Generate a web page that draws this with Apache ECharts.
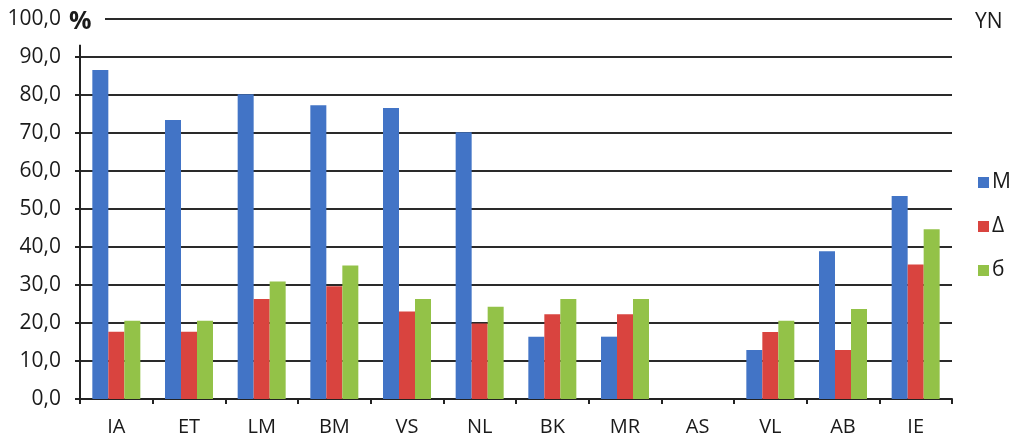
<!DOCTYPE html>
<html>
<head>
<meta charset="utf-8">
<script src="https://cdn.jsdelivr.net/npm/echarts@6/dist/echarts.min.js"></script>
<style>
html,body{margin:0;padding:0;background:#fff;}
#main{width:1023px;height:440px;}
</style>
</head>
<body>
<div id="main"></div>
<script>
// 类别与数值
var categories = ['IA','ET','LM','BM','VS','NL','BK','MR','AS','VL','AB','IE'];
var seriesNames = ['M','Δ','б'];
var valM     = [86.6, 73.4, 80.2, 77.3, 76.6, 70.2, 16.4, 16.4, 0, 12.9, 38.9, 53.4];
var valDelta = [17.7, 17.7, 26.3, 29.7, 23.0, 19.9, 22.3, 22.3, 0, 17.6, 12.9, 35.4];
var valB     = [20.6, 20.6, 30.9, 35.1, 26.3, 24.3, 26.3, 26.3, 0, 20.6, 23.7, 44.7];
var yTicks = {min: 0, max: 100, interval: 10};

var font = '"Open Sans", "Noto Sans", sans-serif';

function drawChart(){
	var myChart = echarts.init(document.getElementById('main'));
	var option = {
		animation: false,
		title: [
			{text: '%', left: 64, top: 4, textStyle: {fontFamily: font, fontSize: 25, fontWeight: 'bold', color: '#1a1a1a'}},
			{text: 'YN', left: 970, top: 7, textStyle: {fontFamily: font, fontSize: 21, fontWeight: 'normal', color: '#1a1a1a'}}
		],
		legend: {
			orient: 'vertical',
			left: 973,
			top: 167,
			itemWidth: 11,
			itemHeight: 11,
			itemGap: 23,
			icon: 'rect',
			data: seriesNames,
			textStyle: {fontFamily: font, fontSize: 21, color: '#1a1a1a', padding: [0, 0, 0, -2]}
		},
		grid: {left: 80, right: 71, top: 19, bottom: 41},
		xAxis: {
			type: 'category',
			data: categories,
			axisLine: {show: true, lineStyle: {color: '#222', width: 2}},
			axisTick: {show: true, length: 5, lineStyle: {color: '#222', width: 2}},
			axisLabel: {fontFamily: font, fontSize: 20, color: '#1a1a1a', margin: 18}
		},
		yAxis: {
			type: 'value',
			min: yTicks.min,
			max: yTicks.max,
			interval: yTicks.interval,
			axisLine: {show: false},
			axisTick: {show: false},
			axisLabel: {
				fontFamily: font, fontSize: 21, color: '#1a1a1a', margin: 19,
				formatter: function(v){ return v.toFixed(1).replace('.', ','); }
			},
			splitLine: {show: true, showMaxLine: false, lineStyle: {color: '#2a2a2a', width: 2}}
		},
		series: [
			{name: seriesNames[0], type: 'bar', data: valM, barWidth: 16, barGap: '0%',
				itemStyle: {color: '#4274C6'}},
			{name: seriesNames[1], type: 'bar', data: valDelta, barWidth: 16,
				itemStyle: {color: '#D9443F'}},
			{name: seriesNames[2], type: 'bar', data: valB, barWidth: 16,
				itemStyle: {color: '#93C248'}}
		]
	};
	myChart.setOption(option);

	// 纵轴线只画到 ~93，100 那条线从 % 号右边开始
	var rect = myChart.getModel().getComponent('grid').coordinateSystem.getRect();
	var x0 = rect.x;
	var x1 = rect.x + rect.width;
	var y0 = myChart.convertToPixel({yAxisIndex: 0}, 0);
	var yTop = myChart.convertToPixel({yAxisIndex: 0}, 93.2);
	var y100 = myChart.convertToPixel({yAxisIndex: 0}, 100);
	var gfx = [
		{type: 'line', shape: {x1: x0, y1: y0, x2: x0, y2: yTop}, style: {stroke: '#222', lineWidth: 2}},
		{type: 'line', shape: {x1: x0 + 25, y1: y100, x2: x1, y2: y100}, style: {stroke: '#2a2a2a', lineWidth: 2}}
	];
	for (var v = 0; v <= 90; v += yTicks.interval) {
		var yy = myChart.convertToPixel({yAxisIndex: 0}, v);
		gfx.push({type: 'line', shape: {x1: x0 - 5, y1: yy, x2: x0, y2: yy}, style: {stroke: '#222', lineWidth: 2}});
	}
	myChart.setOption({graphic: gfx});
}
drawChart();
</script>
</body>
</html>
